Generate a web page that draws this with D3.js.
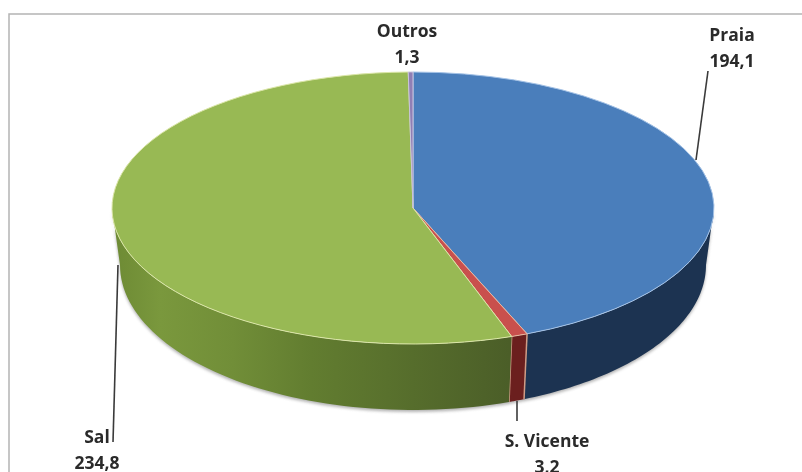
<!DOCTYPE html>
<html>
<head>
<meta charset="utf-8">
<script src="https://cdn.jsdelivr.net/npm/d3@7"></script>
<style>
body { margin: 0; background: #fff; }
text { font-family: "Open Sans", sans-serif; font-weight: 700; font-size: 17.5px; fill: #2a2a2a; text-anchor: middle; }
</style>
</head>
<body>
<svg id="chart" width="802" height="472"></svg>
<script>
// data
const categories = ['Praia', 'S. Vicente', 'Sal', 'Outros']
const values = [194.1, 3.2, 234.8, 1.3]
const valueLabels = ['194,1', '3,2', '234,8', '1,3']

// colours per slice
const topColors = ['#4a7ebb', '#c9504d', '#98b954', '#8f7fb5']
const rimColors = ['#a4c2e6', '#e8b9a0', '#dbe6a8', '#c9c3dc']

// label placement, same order as categories
const labelX = [732, 547, 97, 407]
const labelY = [41, 447, 443, 37]
const leaders = [[[708, 71], [696, 160]], [[517, 401], [517, 421]], [[118, 265], [113, 442]], null]

const width = 802, height = 472
// top face ellipse
const cx = 413, cy = 208, rx = 301, ry = 136
// bottom ellipse, a bit narrower because of the perspective
const cyLow = 265, rxLow = 293, ryLow = 145
const tilt = 0.84 // near slices look wider, same perspective

const svg = d3.select('#chart')
const defs = svg.append('defs')

defs.append('filter').attr('id', 'soft').attr('x', '-10%').attr('y', '-10%').attr('width', '120%').attr('height', '120%')
    .append('feGaussianBlur').attr('stdDeviation', 1.6)
defs.append('filter').attr('id', 'textSoft').attr('x', '-10%').attr('y', '-10%').attr('width', '120%').attr('height', '120%')
    .append('feGaussianBlur').attr('stdDeviation', 0.35)

function sideGradient(id, stops) {
    const g = defs.append('linearGradient').attr('id', id)
        .attr('gradientUnits', 'userSpaceOnUse')
        .attr('x1', cx - rx).attr('x2', cx + rx).attr('y1', 0).attr('y2', 0)
    stops.forEach(s => g.append('stop').attr('offset', s[0]).attr('stop-color', s[1]))
}
sideGradient('sideGreen', [[0, '#6d8a34'], [0.08, '#7a983d'], [0.2, '#718e38'], [0.33, '#627d30'], [0.5, '#566d2c'], [0.66, '#4b5e28'], [1, '#4b5e28']])
sideGradient('sideBlue', [[0, '#1c3351'], [1, '#1c3351']])
sideGradient('sideRed', [[0, '#6b1f1e'], [1, '#6b1f1e']])
const sideFills = ['url(#sideBlue)', 'url(#sideRed)', 'url(#sideGreen)', 'url(#sideGreen)']

// frame
svg.append('rect').attr('x', 9).attr('y', 14).attr('width', 800).attr('height', 470)
    .attr('fill', '#fff').attr('stroke', '#b4b4b4').attr('stroke-width', 1.5)

const pie = d3.pie().sort(null).value(d => d)
const warp = a => 2 * Math.atan(Math.tan(a / 2) * tilt)
const fixAngle = a => {
    if (a <= 0) return 0
    if (a >= 2 * Math.PI) return 2 * Math.PI
    const w = warp(a)
    return w < 0 ? w + 2 * Math.PI : w
}
const arcs = pie(values).map(d => ({ ...d, startAngle: fixAngle(d.startAngle), endAngle: fixAngle(d.endAngle) }))

const px = a => cx + rx * Math.sin(a)
const py = a => cy - ry * Math.cos(a)
const pxLow = a => cx + rxLow * Math.sin(a)
const pyLow = a => cyLow - ryLow * Math.cos(a)

function wallPath(a0, a1) {
    const line = d3.line()
    const steps = d3.range(0, 61).map(i => a0 + (a1 - a0) * i / 60)
    const top = steps.map(a => [px(a), py(a)])
    const bottom = steps.slice().reverse().map(a => [pxLow(a), pyLow(a)])
    return line(top.concat(bottom)) + 'Z'
}

// soft shadow under the pie
svg.append('path').attr('d', wallPath(Math.PI / 2, 3 * Math.PI / 2))
    .attr('transform', 'translate(0,2)')
    .attr('fill', '#8a8a8a').attr('opacity', 0.65).attr('filter', 'url(#soft)')

// visible side wall, only the front half of the ellipse
const walls = svg.append('g')
arcs.forEach((d, i) => {
    const a0 = Math.max(d.startAngle, Math.PI / 2)
    const a1 = Math.min(d.endAngle, 3 * Math.PI / 2)
    if (a1 <= a0) return
    walls.append('path').attr('d', wallPath(a0, a1)).attr('fill', sideFills[i])
    if (i == 1) {
        // pale seams either side of the red wall
        [a0, a1].forEach(a => walls.append('line')
            .attr('x1', px(a)).attr('x2', pxLow(a))
            .attr('y1', py(a)).attr('y2', pyLow(a))
            .attr('stroke', '#cf9c86').attr('stroke-width', 1.5))
    }
})

// top face, drawn as a circle and squashed into the ellipse
const arc = d3.arc().innerRadius(0).outerRadius(rx)
svg.append('g')
    .attr('transform', `translate(${cx},${cy}) scale(1,${ry / rx})`)
    .selectAll('path')
    .data(arcs)
    .join('path')
    .attr('d', arc)
    .attr('fill', (d, i) => topColors[i])
    .attr('stroke', (d, i) => rimColors[i])
    .attr('stroke-width', 1)
    .attr('vector-effect', 'non-scaling-stroke')

// leader lines
svg.append('g').selectAll('line')
    .data(leaders.filter(d => d))
    .join('line')
    .attr('x1', d => d[0][0]).attr('y1', d => d[0][1])
    .attr('x2', d => d[1][0]).attr('y2', d => d[1][1])
    .attr('stroke', '#3a3a3a').attr('stroke-width', 1.6)

// labels
const labels = svg.append('g').attr('filter', 'url(#textSoft)')
categories.forEach((c, i) => {
    labels.append('text').attr('x', labelX[i]).attr('y', labelY[i]).text(c)
    labels.append('text').attr('x', labelX[i]).attr('y', labelY[i] + 26).text(valueLabels[i])
})
</script>
</body>
</html>
